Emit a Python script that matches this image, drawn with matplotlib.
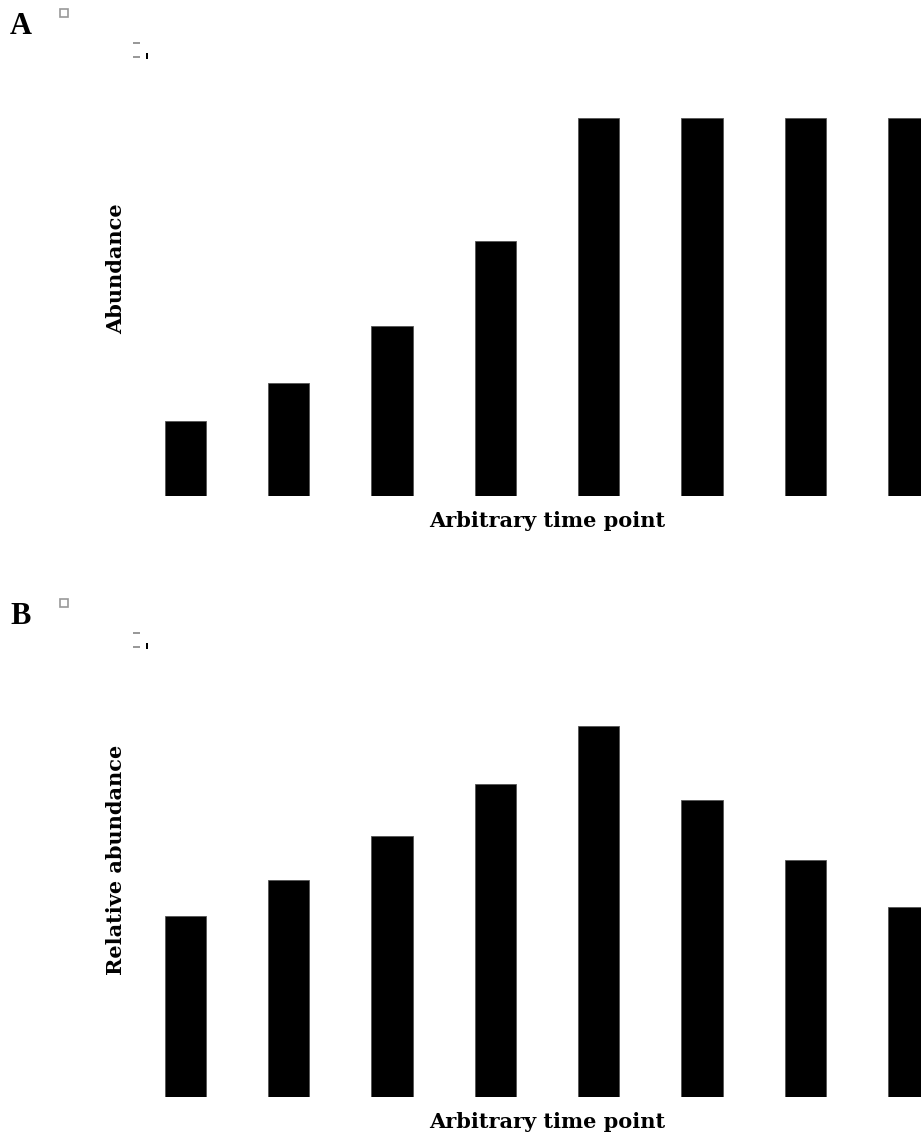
import numpy as np
import matplotlib.pyplot as plt
from matplotlib.patches import Rectangle

timepoints = np.arange(8)
abundance = [0.198, 0.299, 0.45, 0.675, 1.0, 1.0, 1.0, 1.0]
rel_abundance = [0.488, 0.585, 0.704, 0.844, 1.0, 0.80, 0.639, 0.512]

W, H = 921, 1135
fig = plt.figure(figsize=(W / 100, H / 100), dpi=100)

lab_font = dict(family="DejaVu Serif", fontweight="bold", fontsize=15)
letter_font = dict(family="Liberation Serif", fontweight="bold", fontsize=22)


def px_axes(top, bottom, left=150, right=W):
    return fig.add_axes([left / W, 1 - bottom / H, (right - left) / W, (bottom - top) / H])


def panel(top, bottom, values, ylabel, ylab_y):
    ax = px_axes(top, bottom)
    ax.bar(timepoints, values, width=0.4, color="black", edgecolor="#555555", linewidth=0.6)
    ax.set_xlim((150 - 185.5) / 103.3, (W - 185.5) / 103.3)
    ax.set_ylim(0, 1.0)
    ax.axis("off")
    fig.text(547 / W, 1 - (bottom + 25) / H, "Arbitrary time point", ha="center", va="center", **lab_font)
    fig.text(116 / W, 1 - ylab_y / H, ylabel, rotation=90, ha="center", va="center", **lab_font)
    return ax


panel(118, 496, abundance, "Abundance", 269)
panel(726, 1097, rel_abundance, "Relative abundance", 860)

fig.text(10 / W, 1 - 26 / H, "A", ha="left", va="center", **letter_font)
fig.text(10 / W, 1 - 616 / H, "B", ha="left", va="center", **letter_font)

# small stray marks near each panel letter
for dy in (0, 590):
    fig.patches.append(Rectangle((60 / W, 1 - (17 + dy) / H), 8 / W, 8 / H, transform=fig.transFigure,
                                 facecolor="white", edgecolor="#999999", linewidth=1.2))
    for yy in (43, 57):
        fig.patches.append(Rectangle((133 / W, 1 - (yy + 1 + dy) / H), 7 / W, 2 / H, transform=fig.transFigure,
                                     facecolor="#999999", edgecolor="none"))
    fig.patches.append(Rectangle((146 / W, 1 - (59 + dy) / H), 2 / W, 6 / H, transform=fig.transFigure,
                                 facecolor="black", edgecolor="none"))

fig.savefig("out.png", dpi=100, facecolor="white")
